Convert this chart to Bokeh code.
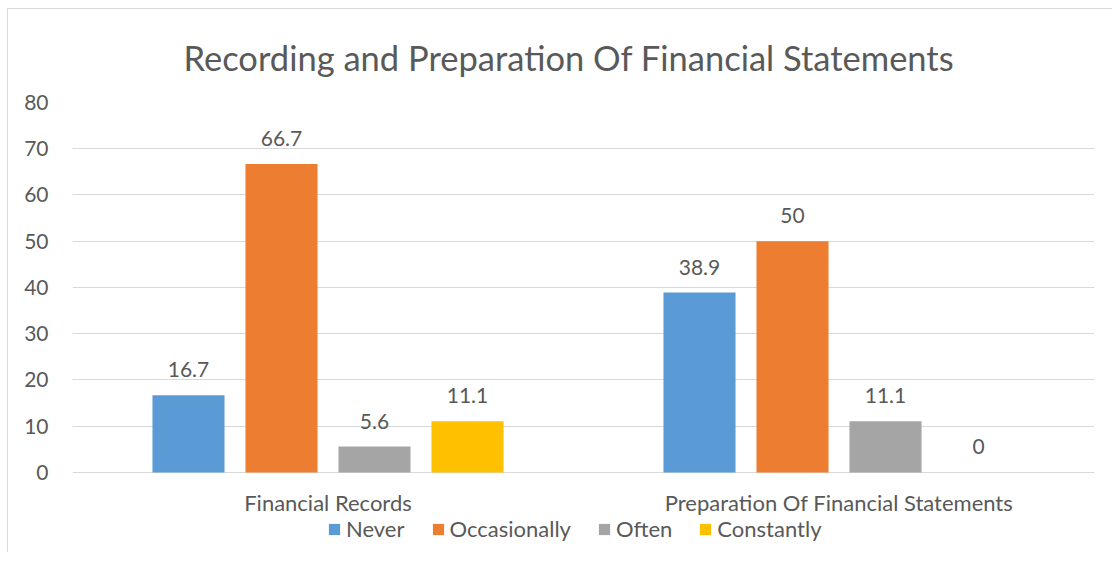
from bokeh.plotting import figure
from bokeh.models import ColumnDataSource, FactorRange, Legend, LegendItem, Range1d
from bokeh.transform import dodge
from bokeh.core.properties import value
from bokeh.embed import file_html
from bokeh.resources import INLINE

categories = ["Financial Records", "Preparation Of Financial Statements"]
series = ["Never", "Occasionally", "Often", "Constantly"]
never = [16.7, 38.9]
occasionally = [66.7, 50.0]
often = [5.6, 11.1]
constantly = [11.1, 0.0]
colors = ["#5B9BD5", "#ED7D31", "#A5A5A5", "#FFC000"]
yticks = [0, 10, 20, 30, 40, 50, 60, 70, 80]

FONT = "Lato"
TXT = "#595959"

data = {"cat": categories, "Never": never, "Occasionally": occasionally,
        "Often": often, "Constantly": constantly, "base": [0, 0]}
for s in series:
    data[s + "_lbl"] = [("%g" % v) for v in data[s]]
src = ColumnDataSource(data)

p = figure(x_range=FactorRange(*categories), y_range=Range1d(-17.3, 80),
           frame_width=1022, frame_height=450, output_backend="svg", toolbar_location=None,
           min_border_left=64, min_border_right=18, min_border_top=91, min_border_bottom=0)
p.styles = {"border-top": "1px solid #d9d9d9", "border-left": "1px solid #d9d9d9",
            "margin-left": "7px", "margin-top": "8px"}

p.title.text = "Recording and Preparation Of Financial Statements"
p.title.align = "left"
p.title.offset = 111
p.title.text_font = FONT
p.title.text_font_size = "34.5px"
p.title.text_font_style = "normal"
p.title.text_color = TXT
p.title.text_line_height = 0.8
p.title.standoff = 50

offsets = [-0.273, -0.091, 0.091, 0.273]
items = []
for s, c, o in zip(series, colors, offsets):
    r = p.vbar(x=dodge("cat", o, range=p.x_range), top=s, width=0.141, source=src,
               fill_color=c, line_color=None)
    p.text(x=dodge("cat", o, range=p.x_range), y=s, text=s + "_lbl", source=src,
           text_align="center", text_baseline="bottom", y_offset=-18,
           text_font=value(FONT), text_font_size="21px", text_color=TXT)
    items.append(LegendItem(label=s, renderers=[r]))

# category labels under the baseline
p.text(x="cat", y="base", text="cat", source=src, text_align="center",
       text_baseline="top", y_offset=17, text_font=value(FONT),
       text_font_size="22px", text_color=TXT)

legend = Legend(items=items, orientation="horizontal", location=(255, 10),
                label_text_font=FONT, label_text_font_size="22px", label_text_color=TXT,
                glyph_width=14, glyph_height=14, spacing=26, label_standoff=5,
                border_line_color=None, background_fill_alpha=0, padding=0, margin=0)
p.add_layout(legend, "center")

p.xaxis.visible = False
p.xgrid.grid_line_color = None
p.ygrid.grid_line_color = "#d9d9d9"
p.ygrid.grid_line_width = 1
p.yaxis.ticker = yticks
p.ygrid.ticker = yticks
p.yaxis.axis_line_color = None
p.yaxis.major_tick_line_color = None
p.yaxis.minor_tick_line_color = None
p.yaxis.major_tick_out = 0
p.yaxis.major_label_standoff = 24
p.yaxis.major_label_text_font = FONT
p.yaxis.major_label_text_font_size = "21px"
p.yaxis.major_label_text_color = TXT
p.outline_line_color = None

open("out.html", "w").write(file_html(p, INLINE))
